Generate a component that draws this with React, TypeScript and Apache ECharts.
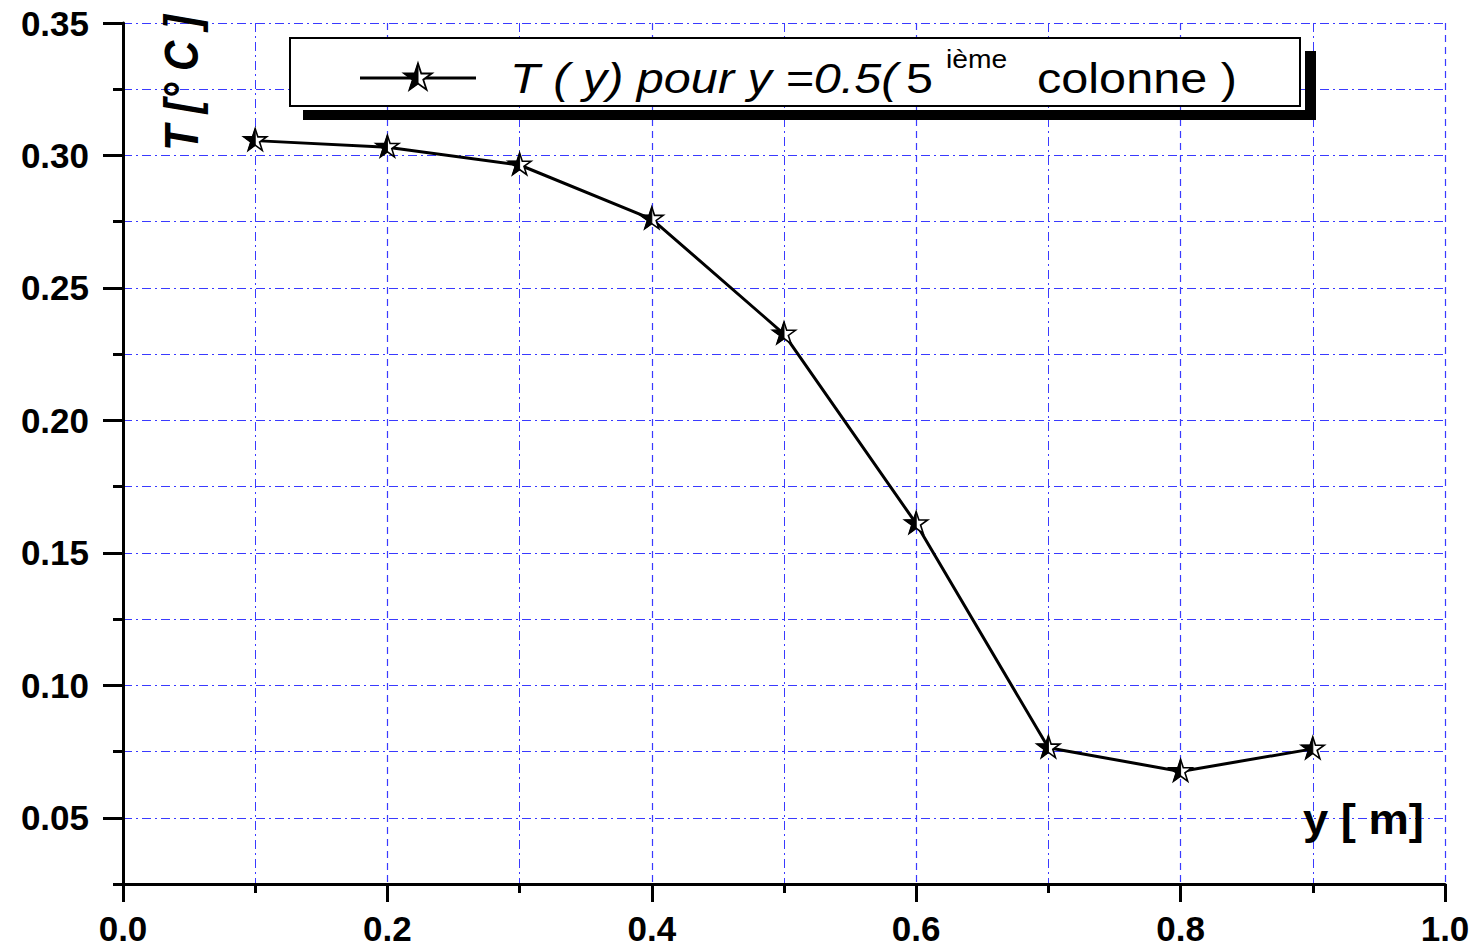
import React, { useEffect, useRef } from "react";
import * as echarts from "echarts";

const positionsY: number[] = [0.1, 0.2, 0.3, 0.4, 0.5, 0.6, 0.7, 0.8, 0.9];
const temperatureT: number[] = [0.3056, 0.3031, 0.2964, 0.276, 0.2326, 0.161, 0.0764, 0.0675, 0.076];
const yMajorTicks: number[] = [0.05, 0.1, 0.15, 0.2, 0.25, 0.3, 0.35];
const legendItalic = "T ( y) pour y =0.5(";
const legendFive = "5";
const legendSup = "ième";
const legendTail = "colonne )";
const yAxisTitle = "T [° C ]";
const xAxisTitle = "y [ m]";

function starPts(cx: number, cy: number, R: number, half: boolean): number[][] {
  const r = R * 0.382;
  const pts: number[][] = [];
  for (let i = 0; i < 10; i++) {
    const ang = (i * 36 * Math.PI) / 180;
    const rad = i % 2 === 0 ? R : r;
    pts.push([cx + rad * Math.sin(ang), cy - rad * Math.cos(ang)]);
  }
  if (!half) return pts;
  return [[cx, cy - R], pts[9], pts[8], pts[7], pts[6], [cx, cy + r]];
}

export default function App() {
  const ref = useRef<HTMLDivElement>(null);
  useEffect(() => {
    if (!ref.current) return;
    const chart = echarts.init(ref.current, null, { renderer: "svg" });
    const blue = "#3a3aff";
    const font = "Liberation Sans, Arial, sans-serif";
    const legendStarY = 78;
    const legendStarX = 418;
    const legendR = 14.5;
    const sx = 1.13;
    chart.setOption({
      animation: false,
      backgroundColor: "#ffffff",
      grid: { left: 123, right: 33, top: 23, bottom: 65, containLabel: false },
      xAxis: {
        type: "value",
        min: 0,
        max: 1,
        interval: 0.2,
        axisLine: { show: true, lineStyle: { color: "#000", width: 3 } },
        axisTick: { show: true, length: 18, lineStyle: { color: "#000", width: 3 } },
        minorTick: { show: true, splitNumber: 2, length: 9, lineStyle: { color: "#000", width: 3 } },
        axisLabel: {
          color: "#000",
          fontFamily: font,
          fontWeight: "bold",
          fontSize: 35,
          margin: 27,
          formatter: (v: number) => v.toFixed(1),
        },
        splitLine: { show: true, lineStyle: { color: blue, width: 1.2, type: [7, 5] } },
        minorSplitLine: { show: true, lineStyle: { color: blue, width: 1, type: [9, 4, 2, 4] } },
      },
      yAxis: [
        {
          type: "value",
          min: 0.025,
          max: 0.35,
          interval: 0.025,
          axisLine: { show: true, lineStyle: { color: "#000", width: 3 } },
          axisTick: { show: true, length: 10, lineStyle: { color: "#000", width: 3 } },
          axisLabel: { show: false },
          splitLine: { show: true, lineStyle: { color: blue, width: 1.2, type: [9, 4, 2, 4] } },
        },
        {
          type: "value",
          min: 0.025,
          max: 0.35,
          interval: 0.025,
          position: "left",
          axisLine: { show: false },
          axisTick: { show: true, length: 20, customValues: yMajorTicks, lineStyle: { color: "#000", width: 3 } },
          axisLabel: {
            show: true,
            customValues: yMajorTicks,
            color: "#000",
            fontFamily: font,
            fontWeight: "bold",
            fontSize: 35,
            margin: 34,
            formatter: (v: number) => v.toFixed(2),
          },
          splitLine: { show: false },
        },
      ],
      series: [
        {
          type: "line",
          data: positionsY.map((x, i) => [x, temperatureT[i]]),
          yAxisIndex: 0,
          symbol: "none",
          lineStyle: { color: "#000", width: 3 },
          z: 3,
        },
        {
          type: "custom",
          yAxisIndex: 0,
          data: positionsY.map((x, i) => [x, temperatureT[i]]),
          z: 4,
          renderItem: (params: any, api: any) => {
            const p = api.coord([api.value(0), api.value(1)]);
            return {
              type: "group",
              children: [
                { type: "polygon", shape: { points: starPts(p[0], p[1], 12, false) }, style: { fill: "#fff", stroke: "#000", lineWidth: 1.6 } },
                { type: "polygon", shape: { points: starPts(p[0], p[1], 12, true) }, style: { fill: "#000", stroke: "#000", lineWidth: 1 } },
              ],
            };
          },
        },
      ],
      graphic: [
        { type: "rect", shape: { x: 303, y: 110, width: 1013, height: 10 }, style: { fill: "#000" }, z: 10 },
        { type: "rect", shape: { x: 1305, y: 51, width: 11, height: 60 }, style: { fill: "#000" }, z: 10 },
        { type: "rect", shape: { x: 290, y: 38, width: 1010, height: 68 }, style: { fill: "#fff", stroke: "#000", lineWidth: 2 }, z: 11 },
        { type: "line", shape: { x1: 360, y1: legendStarY, x2: 476, y2: legendStarY }, style: { stroke: "#000", lineWidth: 3 }, z: 12 },
        { type: "polygon", shape: { points: starPts(legendStarX, legendStarY, legendR, false) }, style: { fill: "#fff", stroke: "#000", lineWidth: 1.8 }, z: 13 },
        { type: "polygon", shape: { points: starPts(legendStarX, legendStarY, legendR, true) }, style: { fill: "#000", stroke: "#000", lineWidth: 1 }, z: 13 },
        {
          type: "text", x: 510, y: 78, scaleX: sx, z: 13,
          style: { text: legendItalic, fontFamily: font, fontStyle: "italic", fontSize: 43, fill: "#000", verticalAlign: "middle", align: "left" },
        },
        {
          type: "text", x: 906, y: 78, scaleX: sx, z: 13,
          style: { text: legendFive, fontFamily: font, fontSize: 43, fill: "#000", verticalAlign: "middle", align: "left" },
        },
        {
          type: "text", x: 946, y: 60, scaleX: sx, z: 13,
          style: { text: legendSup, fontFamily: font, fontSize: 25, fill: "#000", verticalAlign: "middle", align: "left" },
        },
        {
          type: "text", x: 1037, y: 78, scaleX: sx, z: 13,
          style: { text: legendTail, fontFamily: font, fontSize: 43, fill: "#000", verticalAlign: "middle", align: "left" },
        },
        {
          type: "text", x: 181, y: 83, rotation: Math.PI / 2, scaleY: 1.15, z: 13,
          style: { text: yAxisTitle, fontFamily: font, fontStyle: "italic", fontWeight: "bold", fontSize: 42, fill: "#000", verticalAlign: "middle", align: "center" },
        },
        {
          type: "text", x: 1303, y: 819, scaleX: 1.08, z: 13,
          style: { text: xAxisTitle, fontFamily: font, fontWeight: "bold", fontSize: 42, fill: "#000", verticalAlign: "middle", align: "left" },
        },
      ],
    });
    return () => chart.dispose();
  }, []);
  return <div ref={ref} style={{ position: "absolute", left: 0, top: 0, width: 1478, height: 949 }} />;
}
